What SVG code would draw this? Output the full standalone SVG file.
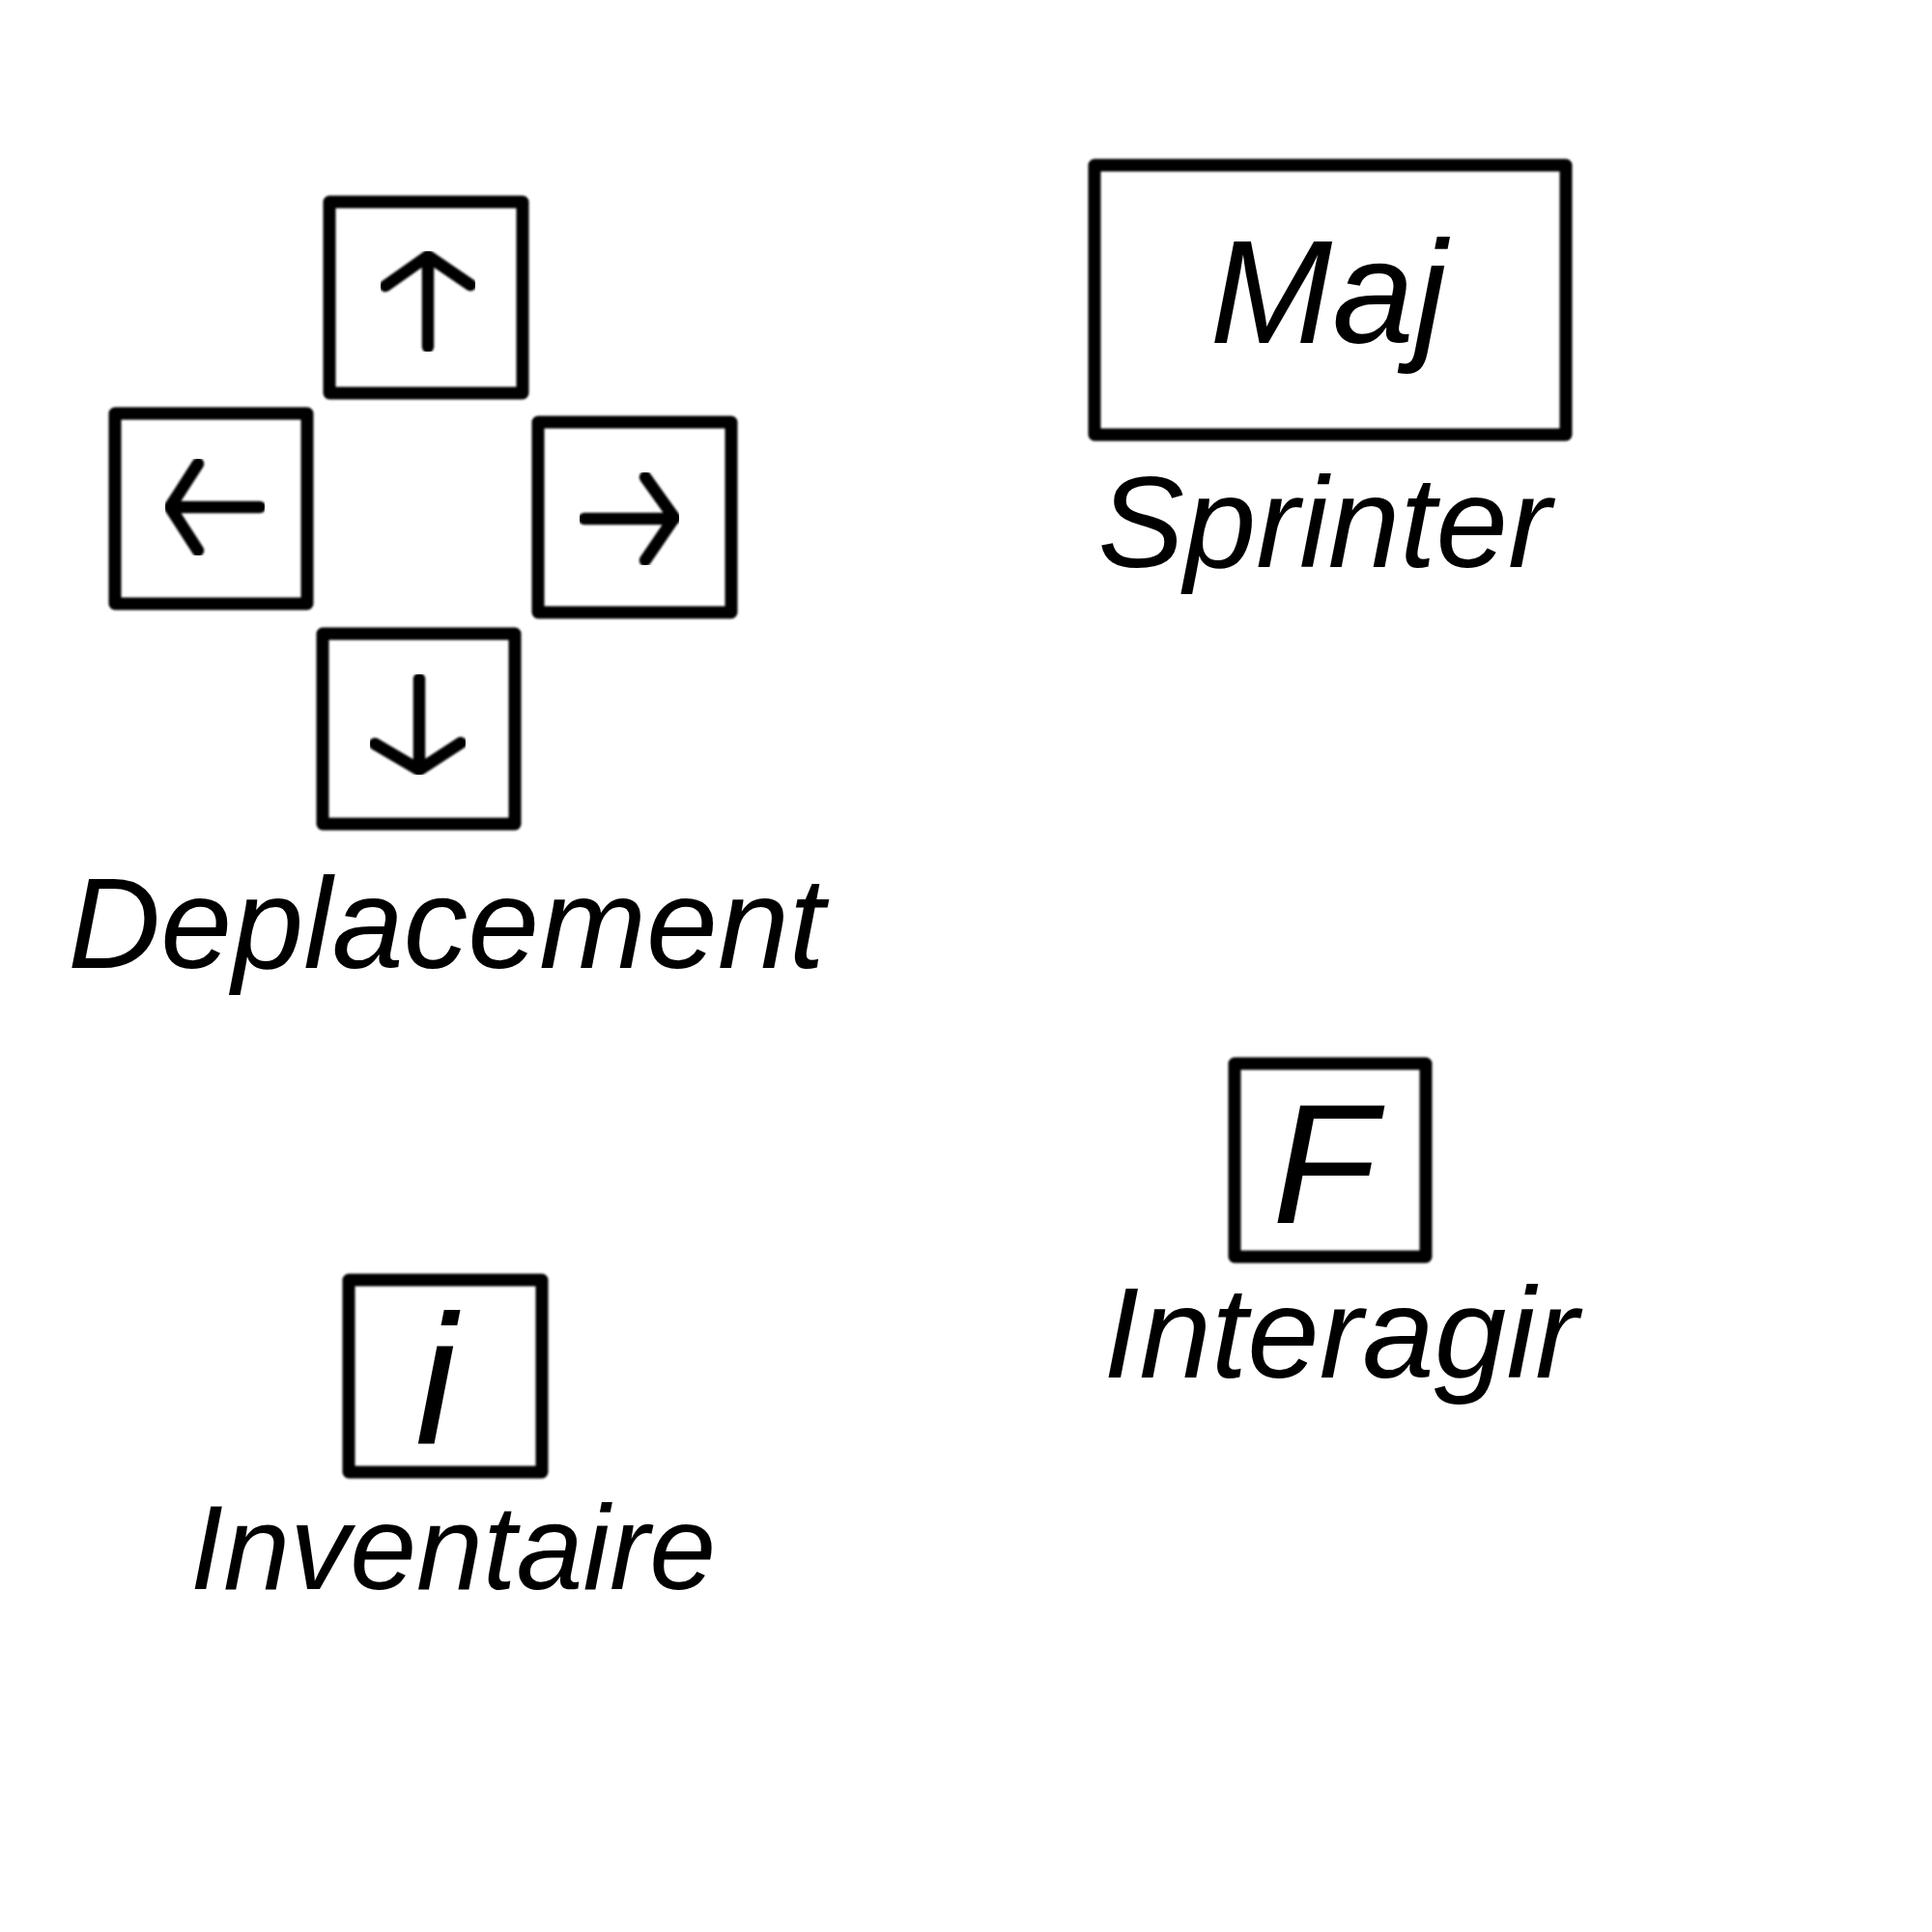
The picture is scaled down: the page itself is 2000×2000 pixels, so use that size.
<svg xmlns="http://www.w3.org/2000/svg" width="2000" height="2000" viewBox="0 0 2000 2000">
<defs>
<filter id="soft" x="-5%" y="-5%" width="110%" height="110%"><feGaussianBlur stdDeviation="1.1"/></filter>
</defs>
<style>
.key{fill:none;stroke:#000;stroke-width:13;stroke-linejoin:round;filter:url(#soft)}
.arr{fill:none;stroke:#000;stroke-width:12.5;stroke-linecap:round;stroke-linejoin:round;filter:url(#soft)}
.t{font-family:"Liberation Sans",Arial,sans-serif;font-style:italic;fill:#000;text-anchor:middle}
</style>
<rect width="2000" height="2000" fill="#fff"/>
<g id="key-up">
<rect class="key" x="341" y="209" width="200" height="198"/>
<path class="arr" d="M443 359V265M399 296L443 265L487 295"/>
</g>
<g id="key-left">
<rect class="key" x="119" y="428" width="199" height="197"/>
<path class="arr" d="M269 525H176M205 480L176 525L205 570"/>
</g>
<g id="key-right">
<rect class="key" x="557" y="437" width="200" height="197"/>
<path class="arr" d="M605 537H698M668 494L698 536L668 580"/>
</g>
<g id="key-down">
<rect class="key" x="334" y="656" width="199" height="197"/>
<path class="arr" d="M434 703V797M388 770L434 797L477 769"/>
</g>
<g id="label-deplacement">
<text class="t" x="462" y="1002" font-size="133">Deplacement</text>
</g>
<g id="key-maj">
<rect class="key" x="1133" y="171" width="488" height="279"/>
<text class="t" x="1375" y="355" font-size="152">Maj</text>
</g>
<g id="label-sprinter">
<text class="t" x="1371" y="587" font-size="134">Sprinter</text>
</g>
<g id="key-f">
<rect class="key" x="1278" y="1101" width="198" height="200"/>
<text class="t" x="1371" y="1266" font-size="177">F</text>
</g>
<g id="label-interagir">
<text class="t" x="1388" y="1426" font-size="134">Interagir</text>
</g>
<g id="key-i">
<rect class="key" x="361" y="1325" width="200" height="199"/>
<text class="t" x="451" y="1495" font-size="191">i</text>
</g>
<g id="label-inventaire">
<text class="t" x="469" y="1645" font-size="124">Inventaire</text>
</g>
<g id="connectors"/>
</svg>
